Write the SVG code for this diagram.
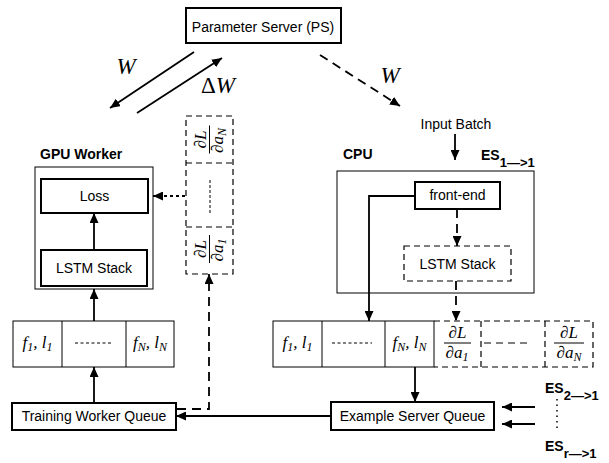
<svg xmlns="http://www.w3.org/2000/svg" width="609" height="463" viewBox="0 0 609 463">
<defs>
<marker id="ah" markerUnits="userSpaceOnUse" markerWidth="11" markerHeight="9" refX="10" refY="4.5" orient="auto"><path d="M0,0 L10,4.5 L0,9 z" fill="#000"/></marker>
<style>
.t{font-family:"Liberation Sans",Arial,sans-serif;font-size:14px;fill:#000;text-anchor:middle}
.b{font-family:"Liberation Sans",Arial,sans-serif;font-size:14px;font-weight:bold;fill:#000}
.m{font-family:"Liberation Serif","DejaVu Serif",serif;font-style:italic;font-size:17px;fill:#000}
.s{font-size:12px}
.big{font-family:"Liberation Serif","DejaVu Serif",serif;font-style:italic;font-size:23px;fill:#000}
.up{font-style:normal}
.box{fill:#fff;stroke:#000;stroke-width:2}
.thin{fill:#fff;stroke:#000;stroke-width:1}
.dbox{fill:none;stroke:#000;stroke-width:1.2;stroke-dasharray:6,4}
.ln{fill:none;stroke:#000;stroke-width:1.8}
.dl{fill:none;stroke:#000;stroke-width:1.8;stroke-dasharray:9,6}
.dt{fill:none;stroke:#000;stroke-width:1.8;stroke-dasharray:3,3}
.bar{stroke:#000;stroke-width:1}
</style>
</defs>
<rect width="609" height="463" fill="#fff"/>

<g id="ps"><rect class="box" x="186" y="8" width="155" height="35"/><text class="t" x="263" y="32">Parameter Server (PS)</text></g>

<g id="gpu-worker">
<text class="b" x="40" y="159">GPU Worker</text>
<rect class="thin" x="35" y="167" width="118" height="122"/>
</g>
<g id="loss"><rect class="box" x="41" y="179" width="107" height="34"/><text class="t" x="94.5" y="201">Loss</text></g>
<g id="gpu-lstm"><rect class="box" x="41" y="250" width="106" height="36"/><text class="t" x="94" y="273">LSTM Stack</text></g>

<g id="grad-column">
<rect class="dbox" x="186" y="116" width="47" height="158"/>
<line class="dbox" x1="186" y1="163" x2="233" y2="163"/>
<line class="dbox" x1="186" y1="227" x2="233" y2="227"/>
<line x1="210" y1="180" x2="210" y2="213" stroke="#000" stroke-width="1" stroke-dasharray="3,2"/>
<g transform="translate(209.5,139.5) rotate(-90)">
<text class="m" x="0" y="-4" text-anchor="middle">∂L</text>
<line class="bar" x1="-14" y1="0" x2="14" y2="0"/>
<text class="m" x="-1" y="13" text-anchor="middle">∂a<tspan class="s" dy="3">N</tspan></text>
</g>
<g transform="translate(209.5,249) rotate(-90)">
<text class="m" x="0" y="-4" text-anchor="middle">∂L</text>
<line class="bar" x1="-14" y1="0" x2="14" y2="0"/>
<text class="m" x="-1" y="13" text-anchor="middle">∂a<tspan class="s" dy="3">1</tspan></text>
</g>
</g>

<g id="cpu">
<text class="b" x="343" y="159">CPU</text>
<text class="b" x="481" y="160">ES<tspan font-size="13" dy="7">1—&gt;1</tspan></text>
<rect class="thin" x="337" y="171" width="197" height="122"/>
</g>
<g id="input-batch"><text class="t" x="456" y="129">Input Batch</text></g>
<g id="front-end"><rect class="box" x="415" y="182" width="85" height="27"/><text class="t" x="457.5" y="200">front-end</text></g>
<g id="cpu-lstm"><rect class="dbox" x="404" y="246" width="107" height="35" stroke-width="1.8"/><text class="t" x="457.5" y="268.5">LSTM Stack</text></g>

<g id="left-row">
<rect class="thin" x="13" y="321" width="161" height="46"/>
<line class="bar" x1="62" y1="321" x2="62" y2="367"/>
<line class="bar" x1="126" y1="321" x2="126" y2="367"/>
<text class="m" x="37.5" y="348" text-anchor="middle">f<tspan class="s" dy="3">1</tspan><tspan dy="-3">, l</tspan><tspan class="s" dy="3">1</tspan></text>
<line x1="75" y1="343" x2="113" y2="343" stroke="#000" stroke-width="1" stroke-dasharray="3,2.5"/>
<text class="m" x="150" y="348" text-anchor="middle">f<tspan class="s" dy="3">N</tspan><tspan dy="-3">, l</tspan><tspan class="s" dy="3">N</tspan></text>
</g>

<g id="right-row">
<rect class="thin" x="273" y="321" width="161" height="46"/>
<line class="bar" x1="322" y1="321" x2="322" y2="367"/>
<line class="bar" x1="385" y1="321" x2="385" y2="367"/>
<text class="m" x="297.5" y="348" text-anchor="middle">f<tspan class="s" dy="3">1</tspan><tspan dy="-3">, l</tspan><tspan class="s" dy="3">1</tspan></text>
<line x1="332" y1="343" x2="372" y2="343" stroke="#000" stroke-width="1" stroke-dasharray="3,2.5"/>
<text class="m" x="409.5" y="348" text-anchor="middle">f<tspan class="s" dy="3">N</tspan><tspan dy="-3">, l</tspan><tspan class="s" dy="3">N</tspan></text>
<path class="dbox" d="M434,321 H593 V367 H434"/>
<line class="dbox" x1="481" y1="321" x2="481" y2="367"/>
<line class="dbox" x1="545" y1="321" x2="545" y2="367"/>
<text class="m" x="457.5" y="338" text-anchor="middle">∂L</text>
<line class="bar" x1="444" y1="343" x2="471" y2="343"/>
<text class="m" x="457" y="358" text-anchor="middle">∂a<tspan class="s" dy="3">1</tspan></text>
<line x1="484" y1="343" x2="530" y2="343" stroke="#000" stroke-width="1" stroke-dasharray="7,5"/>
<text class="m" x="569" y="338" text-anchor="middle">∂L</text>
<line class="bar" x1="554" y1="343" x2="584" y2="343"/>
<text class="m" x="569" y="358" text-anchor="middle">∂a<tspan class="s" dy="3">N</tspan></text>
</g>

<g id="training-worker-queue"><rect class="box" x="12" y="403" width="164" height="27"/><text class="t" x="94" y="421">Training Worker Queue</text></g>
<g id="example-server-queue"><rect class="box" x="331" y="402" width="163" height="28"/><text class="t" x="412.5" y="421">Example Server Queue</text></g>

<g id="es-others">
<text class="b" x="545" y="393">ES<tspan font-size="13" dy="7">2—&gt;1</tspan></text>
<line x1="557" y1="399" x2="557" y2="429" stroke="#000" stroke-width="1.5" stroke-dasharray="1.5,4"/>
<text class="b" x="545" y="451">ES<tspan font-size="13" dy="7">r—&gt;1</tspan></text>
</g>

<g id="connectors">
<line class="ln" x1="194" y1="52" x2="110" y2="108" marker-end="url(#ah)"/>
<line class="ln" x1="137" y1="113" x2="222" y2="58" marker-end="url(#ah)"/>
<text class="big" x="126" y="74" text-anchor="middle">W</text>
<text class="big" x="218" y="93" text-anchor="middle"><tspan class="up">Δ</tspan>W</text>
<line class="dl" x1="320" y1="55" x2="400" y2="106" stroke-dasharray="12,8" marker-end="url(#ah)"/>
<text class="big" x="390" y="83" text-anchor="middle">W</text>
<line class="ln" x1="455" y1="134" x2="455" y2="160" marker-end="url(#ah)"/>
<line class="ln" x1="94" y1="250" x2="94" y2="213" marker-end="url(#ah)"/>
<line class="dt" x1="185" y1="196" x2="153" y2="196" marker-end="url(#ah)"/>
<line class="ln" x1="94" y1="321" x2="94" y2="289" marker-end="url(#ah)"/>
<line class="ln" x1="94" y1="403" x2="94" y2="367" marker-end="url(#ah)"/>
<path class="dl" d="M177,409 H209 V274" stroke-dasharray="9,6" marker-end="url(#ah)"/>
<line class="dl" x1="457" y1="209" x2="457" y2="246" stroke-dasharray="6,4" marker-end="url(#ah)"/>
<path class="ln" d="M415,196 H369 V321" marker-end="url(#ah)"/>
<line class="dl" x1="456" y1="281" x2="456" y2="321" stroke-dasharray="7,5" marker-end="url(#ah)"/>
<line class="ln" x1="415" y1="367" x2="415" y2="402" marker-end="url(#ah)"/>
<line class="ln" x1="331" y1="416" x2="176" y2="416" marker-end="url(#ah)"/>
<line class="ln" x1="535" y1="407" x2="502" y2="407" marker-end="url(#ah)"/>
<line class="ln" x1="535" y1="424" x2="502" y2="424" marker-end="url(#ah)"/>
</g>
</svg>
